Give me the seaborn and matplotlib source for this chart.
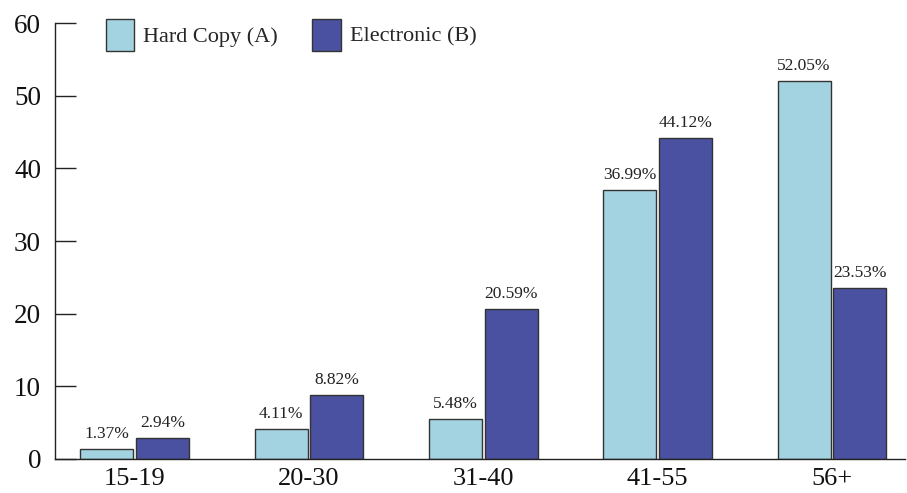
import matplotlib
matplotlib.use("Agg")
import matplotlib.pyplot as plt
import seaborn as sns
import pandas as pd
from matplotlib.patches import Patch

categories = ["15-19", "20-30", "31-40", "41-55", "56+"]
hard_copy = [1.37, 4.11, 5.48, 36.99, 52.05]
electronic = [2.94, 8.82, 20.59, 44.12, 23.53]
series_names = ["Hard Copy (A)", "Electronic (B)"]
y_ticks = [0, 10, 20, 30, 40, 50, 60]

df = pd.DataFrame({
    "age": categories * 2,
    "value": hard_copy + electronic,
    "series": [series_names[0]] * len(categories) + [series_names[1]] * len(categories),
})

sns.set_theme(style="white")
plt.rcParams["font.family"] = ["Liberation Serif", "DejaVu Serif"]

fig = plt.figure(figsize=(9.07, 4.93), dpi=100)
ax = fig.add_axes([0.0606, 0.069, 0.9374, 0.8843])

palette = {series_names[0]: "#A3D3E0", series_names[1]: "#4A51A0"}
sns.barplot(data=df, x="age", y="value", hue="series", palette=palette,
            width=0.64, gap=0.05, edgecolor="#333333", linewidth=1.0,
            saturation=1, ax=ax, legend=False)

for cont in ax.containers:
    ax.bar_label(cont, fmt="%.2f%%", padding=5, fontsize=12.5, color="#222222")

ax.set_xlim(-0.457, 4.42)
ax.set_ylim(0, 60)
ax.set_yticks(y_ticks)
ax.set_xlabel("")
ax.set_ylabel("")
for s in ["top", "right"]:
    ax.spines[s].set_visible(False)
for s in ["left", "bottom"]:
    ax.spines[s].set_color("#222222")
    ax.spines[s].set_linewidth(1.0)
ax.tick_params(axis="y", direction="in", length=15, width=1.0, color="#222222",
               pad=10, labelsize=19.5, labelcolor="#111111", left=True)
ax.tick_params(axis="x", length=0, pad=6.5, labelsize=19, labelcolor="#111111")

handles = [Patch(facecolor=palette[n], edgecolor="#333333", linewidth=1.0) for n in series_names]
ax.legend(handles, series_names, loc="upper left", bbox_to_anchor=(0.049, 1.03),
          ncol=2, frameon=False, fontsize=16, handlelength=1.3, handleheight=1.83,
          handletextpad=0.4, columnspacing=1.53, borderaxespad=0)

fig.savefig("out.png", dpi=100)
